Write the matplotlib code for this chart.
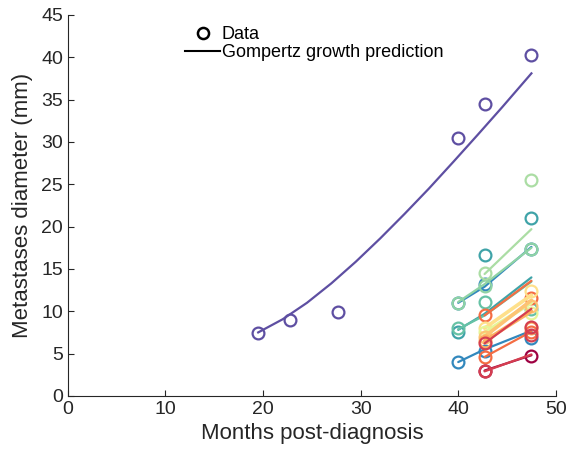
import matplotlib
matplotlib.use("Agg")
import matplotlib.pyplot as plt
from matplotlib.lines import Line2D

plt.rcParams['font.family'] = ['Liberation Sans', 'DejaVu Sans']

# Main (purple) lesion
main_t = [19.5, 22.8, 27.7, 40.0, 42.7, 47.5]
main_d = [7.4, 9.0, 9.9, 30.5, 34.5, 40.3]
main_pred_t = [19.5, 22.0, 24.5, 27.0, 29.5, 32.0, 34.5, 37.0, 39.5, 42.0, 44.5, 47.5]
main_pred_v = [7.5, 9.05, 11.0, 13.3, 15.85, 18.6, 21.5, 24.5, 27.65, 30.85, 34.1, 38.1]
main_color = '#5e4fa2'

# Other lesions: (color, times, data, prediction)
colors = ['#3288bd', '#3288bd', '#8fd3a4', '#abdda4', '#3fa3a8', '#66c2a5',
          '#f46d43', '#fee08b', '#e6f598', '#fdc374', '#fdae61', '#f46d43',
          '#9e0142', '#d53e4f', '#d53e4f']
times = [[40.0, 42.7, 47.5], [40.0, 42.7, 47.5], [40.0, 42.7, 47.5],
         [42.7, 47.5], [40.0, 42.7, 47.5], [40.0, 42.7, 47.5],
         [42.7, 47.5], [42.7, 47.5], [42.7, 47.5], [42.7, 47.5],
         [42.7, 47.5], [42.7, 47.5], [42.7, 47.5], [42.7, 47.5], [42.7, 47.5]]
data = [[11.0, 13.2, 17.3], [4.0, 5.3, 6.8], [11.0, 13.0, 17.4],
        [14.5, 25.5], [7.6, 16.6, 21.0], [8.0, 11.1, 10.3],
        [9.5, 11.6], [8.0, 12.4], [7.5, 9.8], [7.0, 10.6],
        [6.5, 8.0], [4.6, 7.5], [3.0, 4.7], [6.2, 8.1], [2.9, 7.2]]
preds = [[11.0, 12.9, 17.6], [4.0, 5.5, 7.7], [11.1, 13.2, 17.5],
         [14.4, 19.7], [7.8, 9.7, 14.0], [7.9, 9.5, 13.5],
         [9.5, 13.6], [8.0, 11.9], [7.5, 11.0], [7.0, 11.3],
         [6.5, 10.0], [4.6, 7.6], [3.0, 4.8], [6.2, 10.3], [2.9, 4.9]]

xticks = [0, 10, 20, 30, 40, 50]
yticks = [0, 5, 10, 15, 20, 25, 30, 35, 40, 45]

fig = plt.figure(figsize=(5.66, 4.53), dpi=100)
ax = fig.add_axes([0.120, 0.126, 0.862, 0.841])

ms = 8.5
mew = 1.6
lw = 1.6
warm = {'#fee08b', '#e6f598', '#fdc374', '#fdae61'}

ax.plot(main_pred_t, main_pred_v, '-', color=main_color, lw=lw)
ax.plot(main_t, main_d, 'o', mfc='none', mec=main_color, ms=ms, mew=mew)

for c, t, d, p in zip(colors, times, data, preds):
    ax.plot(t, p, '-', color=c, lw=(2.6 if c in warm else lw), solid_capstyle='round')
    ax.plot(t, d, 'o', mfc='none', mec=c, ms=ms, mew=mew)

ax.set_xlim(0, 50)
ax.set_ylim(0, 45)
ax.set_xticks(xticks)
ax.set_yticks(yticks)
ax.tick_params(direction='in', labelsize=14, colors='#262626', length=4)
for s in ['top', 'right']:
    ax.spines[s].set_visible(False)
for s in ['left', 'bottom']:
    ax.spines[s].set_color('#262626')
    ax.spines[s].set_linewidth(0.8)

ax.set_xlabel('Months post-diagnosis', fontsize=16, color='#262626', labelpad=4)
ax.set_ylabel('Metastases diameter (mm)', fontsize=16, color='#262626', labelpad=6)

handles = [Line2D([], [], marker='o', ls='none', mfc='none', mec='black', ms=8, mew=1.8),
           Line2D([], [], color='black', lw=1.5)]
ax.legend(handles, ['Data', 'Gompertz growth prediction'], frameon=False,
          loc='upper left', bbox_to_anchor=(0.215, 1.003), fontsize=13,
          handlelength=1.9, handletextpad=0.1, labelspacing=0.05, borderpad=0.2)

fig.savefig('out.png', dpi=100)
